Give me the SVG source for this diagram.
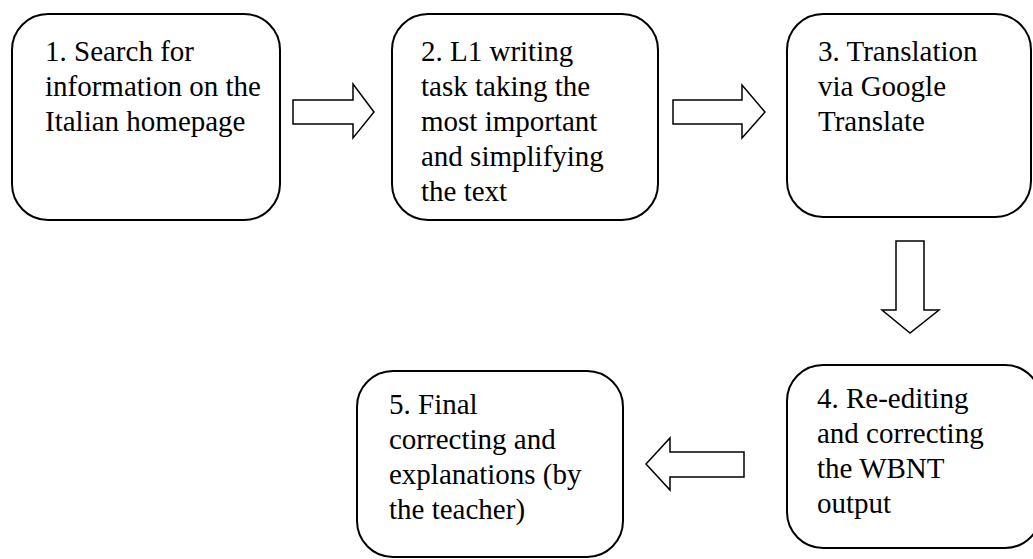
<svg xmlns="http://www.w3.org/2000/svg" width="1033" height="559" viewBox="0 0 1033 559">
<style>
.box{fill:#fff;stroke:#000;stroke-width:2}
.arr{fill:#fff;stroke:#000;stroke-width:1.5;stroke-linejoin:miter}
</style>
<rect width="1033" height="559" fill="#fff"/>
<g id="connectors">
<path class="arr" d="M293,100 H353 V84 L374,112 L353,138 V124 H293 Z"/>
<path class="arr" d="M673,100 H742 V85 L765,112 L742,138 V124 H673 Z"/>
<path class="arr" d="M896,241 H924 V310 H939 L910,333 L882,310 H896 Z"/>
<path class="arr" d="M744,452 H670 V438 L646,464 L670,490 V477 H744 Z"/>
</g>
<g font-family="'Liberation Serif', 'Times New Roman', serif" font-size="29" fill="#000">
<g id="node1">
<rect class="box" x="12" y="14" width="268" height="206" rx="36"/>
<text x="45" y="61">1. Search for</text>
<text x="45" y="96">information on the</text>
<text x="45" y="131">Italian homepage</text>
</g>
<g id="node2">
<rect class="box" x="392" y="14" width="266" height="206" rx="36"/>
<text x="421" y="61">2. L1 writing</text>
<text x="421" y="96">task taking the</text>
<text x="421" y="131">most important</text>
<text x="421" y="166">and simplifying</text>
<text x="421" y="201">the text</text>
</g>
<g id="node3">
<rect class="box" x="787" y="14" width="244" height="203" rx="36"/>
<text x="818" y="61">3. Translation</text>
<text x="818" y="96">via Google</text>
<text x="818" y="131">Translate</text>
</g>
<g id="node4">
<rect class="box" x="787" y="365" width="254" height="183" rx="36"/>
<text x="817" y="408">4. Re-editing</text>
<text x="817" y="443">and correcting</text>
<text x="817" y="478">the WBNT</text>
<text x="817" y="513">output</text>
</g>
<g id="node5">
<rect class="box" x="357" y="371" width="266" height="186" rx="36"/>
<text x="389" y="414">5. Final</text>
<text x="389" y="449">correcting and</text>
<text x="389" y="484">explanations (by</text>
<text x="389" y="519">the teacher)</text>
</g>
</g>
</svg>
